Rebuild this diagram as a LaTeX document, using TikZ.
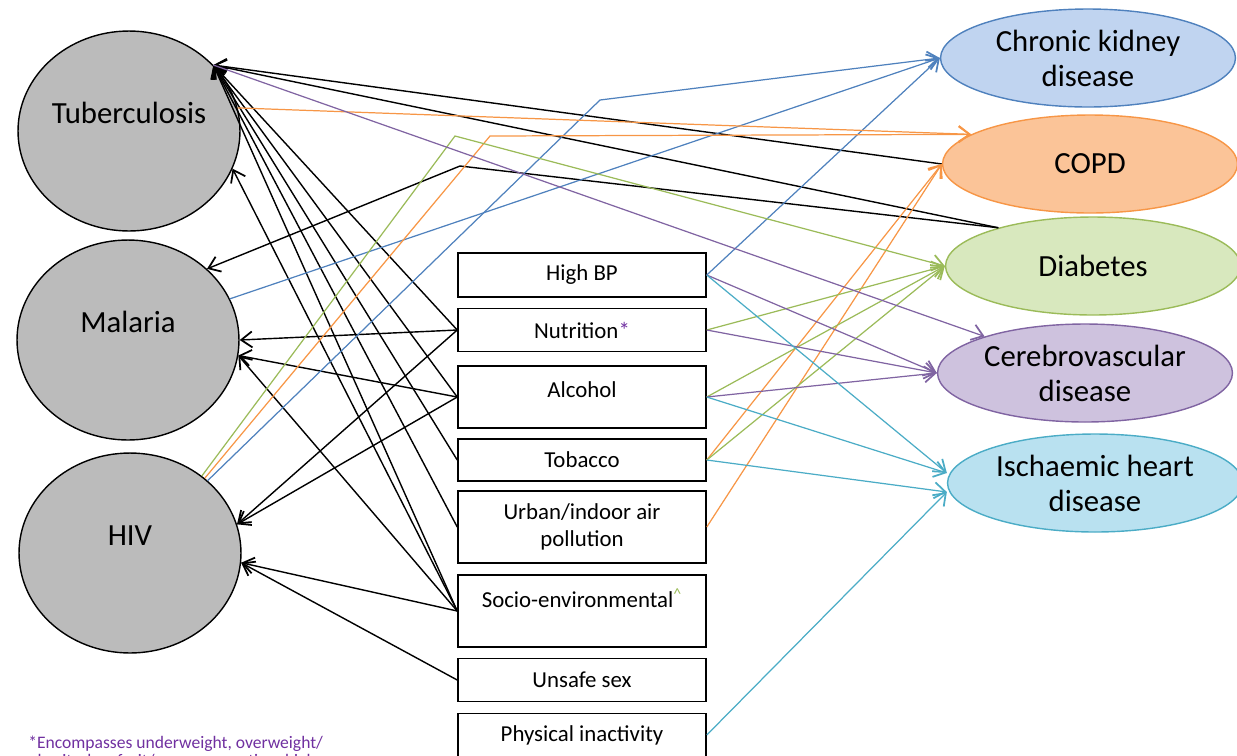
\documentclass[tikz,border=0pt]{standalone}
\usepackage{fontspec}
\setmainfont{Carlito}
\usetikzlibrary{shapes.geometric,arrows.meta}

\definecolor{gris}{RGB}{187,187,187}
\definecolor{cbleu}{RGB}{79,129,189}
\definecolor{fbleu}{RGB}{192,212,240}
\definecolor{corange}{RGB}{247,150,70}
\definecolor{forange}{RGB}{251,196,152}
\definecolor{cvert}{RGB}{155,187,89}
\definecolor{fvert}{RGB}{216,232,190}
\definecolor{cviolet}{RGB}{128,100,162}
\definecolor{fviolet}{RGB}{206,194,222}
\definecolor{ccyan}{RGB}{75,172,198}
\definecolor{fcyan}{RGB}{185,225,240}
\definecolor{cnote}{RGB}{112,48,160}

\begin{document}
\begin{tikzpicture}[x=0.02cm, y=-0.02cm,
        maladie/.style={ellipse, draw, line width=0.8pt, fill=gris, minimum width=4.44cm, minimum height=4cm, inner sep=0pt, text height=12pt, text depth=20pt, font=\fontsize{17.5}{20}\selectfont},
        risque/.style={rectangle, draw, line width=0.9pt, minimum width=4.96cm, inner sep=0pt, align=center, font=\fontsize{13}{15.5}\selectfont},
        chronique/.style={ellipse, draw, line width=0.8pt, minimum width=5.9cm, minimum height=1.96cm, inner sep=0pt, align=center, font=\fontsize{17.5}{20}\selectfont},
        note/.style={anchor=base west, inner sep=0pt, text=cnote, font=\fontsize{10}{12}\selectfont},
        fleche/.style={-{Straight Barb[length=2.2mm, width=3.2mm, line width=1pt]}, line width=0.8pt},
        lien/.style={fleche, line width=0.7pt}]

        \useasboundingbox (0,0) rectangle (1237,755);

        % Maladies infectieuses (à gauche)
        \node[maladie] (TB) at (129,131) {Tuberculosis};
        \node[maladie] (MAL) at (128,340) {Malaria};
        \node[maladie] (HIV) at (130,553) {HIV};

        % Facteurs de risque (au centre)
        \node[risque, minimum height=0.88cm] (HBP) at (582,275) {High BP};
        \node[risque, minimum height=0.86cm] (NUT) at (582,330) {Nutrition\textcolor{cnote}{*}};
        \node[risque, minimum height=1.24cm, text height=9.5pt, text depth=9pt] (ALC) at (582,397) {Alcohol};
        \node[risque, minimum height=0.84cm] (TOB) at (582,460) {Tobacco};
        \node[risque, minimum height=1.44cm] (URB) at (582,527) {Urban/indoor air\\pollution};
        \node[risque, minimum height=1.44cm, text height=9.5pt, text depth=13.7pt] (SOC) at (582,611) {Socio-environmental\textcolor{cvert}{\textsuperscript{\textasciicircum}}};
        \node[risque, minimum height=0.86cm] (UNS) at (582,680) {Unsafe sex};
        \node[risque, minimum height=0.86cm] (PHY) at (582,735) {Physical inactivity};

        % Maladies chroniques (à droite)
        \node[chronique, draw=cbleu, fill=fbleu] (CKD) at (1088,58) {Chronic kidney\\disease};
        \node[chronique, draw=corange, fill=forange] (COPD) at (1090,164) {COPD};
        \node[chronique, draw=cvert, fill=fvert] (DIA) at (1093,266) {Diabetes};
        \node[chronique, draw=cviolet, fill=fviolet] (CER) at (1085,373) {Cerebrovascular\\disease};
        \node[chronique, draw=ccyan, fill=fcyan] (IHD) at (1095,483) {Ischaemic heart\\disease};

        % Coudes des liens brisés
        \coordinate (coudeN) at (460,166);
        \coordinate (coudeB) at (600,100);
        \coordinate (coudeO) at (490,136);
        \coordinate (coudeV) at (455,136);

        % Liens vers la tuberculose
        \draw[fleche] (COPD.west) -- (TB.38);
        \draw[fleche] (DIA.158) -- (TB.38);
        \draw[fleche] (NUT.west) -- (TB.38);
        \draw[fleche] (ALC.west) -- (TB.38);
        \draw[fleche] (TOB.west) -- (TB.38);
        \draw[fleche] (URB.west) -- (TB.38);
        \draw[fleche] (SOC.west) -- (TB.38);
        \draw[fleche] (SOC.west) -- (TB.-20);

        % Liens vers le paludisme
        \draw[fleche] (DIA.158) -- (coudeN) -- (MAL.42);
        \draw[fleche] (NUT.west) -- (MAL.east);
        \draw[fleche] (ALC.west) -- (MAL.-8);
        \draw[fleche] (SOC.west) -- (MAL.-8);

        % Liens vers le VIH
        \draw[fleche] (NUT.west) -- (HIV.15);
        \draw[fleche] (ALC.west) -- (HIV.15);
        \draw[fleche] (SOC.west) -- (HIV.-5);
        \draw[fleche] (UNS.west) -- (HIV.-5);

        % Vers l'insuffisance rénale chronique
        \draw[lien, cbleu] (MAL.22) -- (CKD.west);
        \draw[lien, cbleu] (HIV.43) -- (coudeB) -- (CKD.west);
        \draw[lien, cbleu] (HBP.east) -- (CKD.west);

        % Vers la BPCO
        \draw[lien, corange] (TB.12) -- (COPD.166);
        \draw[lien, corange] (HIV.45) -- (coudeO) -- (COPD.166);
        \draw[lien, corange] (TOB.east) -- (COPD.west);
        \draw[lien, corange] (URB.east) -- (COPD.west);

        % Vers le diabète
        \draw[lien, cvert] (HIV.47) -- (coudeV) -- (DIA.west);
        \draw[lien, cvert] (NUT.east) -- (DIA.west);
        \draw[lien, cvert] (ALC.east) -- (DIA.west);
        \draw[lien, cvert] (TOB.east) -- (DIA.west);

        % Vers les maladies cérébrovasculaires
        \draw[lien, cviolet] (TB.38) -- (CER.160);
        \draw[lien, cviolet] (HBP.east) -- (CER.west);
        \draw[lien, cviolet] (NUT.east) -- (CER.west);
        \draw[lien, cviolet] (ALC.east) -- (CER.west);

        % Vers la cardiopathie ischémique
        \draw[lien, ccyan] (HBP.east) -- ([yshift=0.2cm]IHD.west);
        \draw[lien, ccyan] (ALC.east) -- ([yshift=0.2cm]IHD.west);
        \draw[lien, ccyan] (TOB.east) -- ([yshift=-0.18cm]IHD.west);
        \draw[lien, ccyan] (PHY.east) -- ([yshift=-0.18cm]IHD.west);

        % Note de bas de page
        \node[note] (note1) at (28,748) {*Encompasses underweight, overweight/};
        \node[note] (note2) at (28,766) {obesity, low fruit/veg consumption, high};

    \end{tikzpicture}
\end{document}
